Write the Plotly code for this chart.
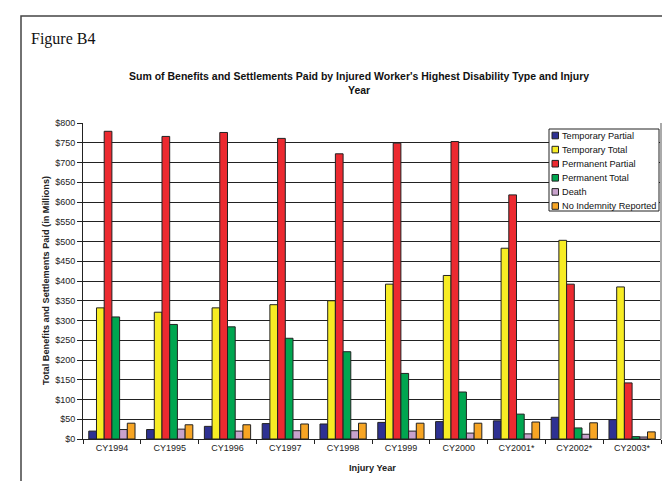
import plotly.graph_objects as go

# ---- data ----
categories = ["CY1994", "CY1995", "CY1996", "CY1997", "CY1998",
              "CY1999", "CY2000", "CY2001*", "CY2002*", "CY2003*"]
temporary_partial = [20, 24, 32, 39, 38, 42, 44, 46, 55, 49]
temporary_total = [332, 321, 332, 340, 350, 392, 414, 483, 503, 385]
permanent_partial = [779, 766, 776, 761, 722, 749, 753, 618, 392, 142]
permanent_total = [309, 290, 284, 255, 221, 166, 119, 63, 28, 6]
death = [24, 25, 20, 21, 21, 20, 15, 13, 12, 5]
no_indemnity_reported = [40, 36, 36, 38, 40, 40, 40, 43, 41, 18]

series_names = ["Temporary Partial", "Temporary Total", "Permanent Partial",
                "Permanent Total", "Death", "No Indemnity Reported"]
series_values = [temporary_partial, temporary_total, permanent_partial,
                 permanent_total, death, no_indemnity_reported]
series_colors = ["#2E3192", "#F7EC24", "#EC2A30", "#00A650", "#C8A2CC", "#F7A524"]

y_ticks = list(range(0, 801, 50))
y_tick_labels = ["$" + str(v) for v in y_ticks]

# ---- geometry helpers (pixel -> paper) ----
W, H = 670, 481
L, R, T, B = 75, 17, 115, 50
PW, PH = W - L - R, H - T - B


def px(x):
    return (x - L) / PW


def py(y):
    return (H - B - y) / PH


FONT = "Liberation Sans, Arial, sans-serif"

fig = go.Figure()
for name, vals, col in zip(series_names, series_values, series_colors):
    fig.add_trace(go.Bar(
        x=categories, y=vals, name=name, showlegend=False,
        marker=dict(color=col, line=dict(color="#222222", width=1)),
    ))

shapes = []
annotations = []

# outer frame of the figure
shapes.append(dict(type="rect", xref="paper", yref="paper",
                   x0=px(13), x1=px(667), y0=py(495), y1=py(8),
                   line=dict(color="#444444", width=1.5), fillcolor="rgba(0,0,0,0)"))
# right edge of the plot area (grey)
shapes.append(dict(type="line", xref="paper", yref="paper",
                   x0=1, x1=1, y0=0, y1=1, line=dict(color="#AAAAAA", width=2)))

# custom legend
lx0, lx1, ly0, ly1 = 541, 651, 121, 203
shapes.append(dict(type="rect", xref="paper", yref="paper",
                   x0=px(lx0), x1=px(lx1), y0=py(ly1), y1=py(ly0),
                   line=dict(color="#222222", width=1), fillcolor="white"))
for i, (name, col) in enumerate(zip(series_names, series_colors)):
    yc = 127.5 + i * 14.1
    shapes.append(dict(type="rect", xref="paper", yref="paper",
                       x0=px(544), x1=px(550.5), y0=py(yc + 3.3), y1=py(yc - 3.3),
                       line=dict(color="#222222", width=1), fillcolor=col))
    annotations.append(dict(text=name, xref="paper", yref="paper",
                            x=px(551.5), y=py(yc), xanchor="left", yanchor="middle",
                            showarrow=False, font=dict(family=FONT, size=9.2, color="#111111")))

# titles
annotations.append(dict(text="Figure B4", xref="paper", yref="paper",
                        x=px(21), y=py(31), xanchor="left", yanchor="middle",
                        showarrow=False,
                        font=dict(family="Liberation Serif, Times New Roman, serif", size=16, color="#111111")))
annotations.append(dict(text="<b>Sum of Benefits and Settlements Paid by Injured Worker's Highest Disability Type and Injury<br>Year</b>",
                        xref="paper", yref="paper", x=px(351), y=py(75),
                        xanchor="center", yanchor="middle", showarrow=False, align="center",
                        font=dict(family=FONT, size=10.5, color="#111111")))
annotations.append(dict(text="<b>Injury Year</b>", xref="paper", yref="paper",
                        x=px(364), y=py(460), xanchor="center", yanchor="middle",
                        showarrow=False, font=dict(family=FONT, size=9.2, color="#222222")))
annotations.append(dict(text="<b>Total Benefits and Settlements Paid (in Millions)</b>",
                        xref="paper", yref="paper", x=px(38), y=py(273),
                        xanchor="center", yanchor="middle", textangle=-90,
                        showarrow=False, font=dict(family=FONT, size=9.2, color="#222222")))

fig.update_layout(
    width=W, height=H,
    margin=dict(l=L, r=R, t=T, b=B, pad=0),
    paper_bgcolor="white", plot_bgcolor="white",
    barmode="group", bargap=0.2, bargroupgap=0,
    font=dict(family=FONT, size=9, color="#222222"),
    shapes=shapes, annotations=annotations,
    showlegend=False,
)
fig.update_xaxes(
    type="category", showgrid=False, showline=True, linecolor="#222222", linewidth=1,
    ticks="outside", tickson="boundaries", ticklen=4, tickcolor="#222222",
    tickfont=dict(family=FONT, size=9, color="#222222"), automargin=False,
)
fig.update_yaxes(
    range=[0, 800], tickvals=y_ticks, ticktext=y_tick_labels,
    showgrid=True, gridcolor="#222222", gridwidth=1, zeroline=False,
    showline=True, linecolor="#222222", linewidth=1,
    ticks="outside", ticklen=5, tickcolor="#222222",
    tickfont=dict(family=FONT, size=9, color="#222222"), automargin=False,
)

fig.write_html("out.html")
